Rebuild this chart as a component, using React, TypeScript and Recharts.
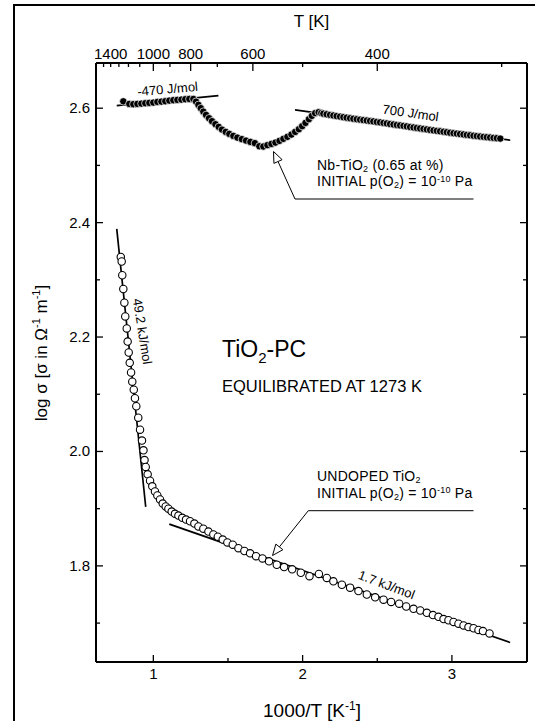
import React from 'react'
import { ComposedChart, Scatter, Line, XAxis, YAxis } from 'recharts'

const FONT = '"Liberation Sans", Arial, Helvetica, sans-serif'

// [1000/T, log sigma]
const undoped: [number, number][] = [
  [0.782, 2.34], [0.788, 2.332], [0.792, 2.308], [0.799, 2.284], [0.806, 2.26], [0.812, 2.236], [0.822, 2.215], [0.828, 2.192], [0.835, 2.173], [0.842, 2.155],
  [0.851, 2.138], [0.859, 2.122], [0.869, 2.108], [0.877, 2.093], [0.886, 2.079], [0.899, 2.059], [0.911, 2.038], [0.924, 2.019], [0.934, 2.002], [0.941, 1.985],
  [0.949, 1.973], [0.962, 1.96], [0.978, 1.949], [0.993, 1.939], [1.011, 1.93], [1.027, 1.923], [1.045, 1.916], [1.063, 1.909], [1.083, 1.904], [1.101, 1.9],
  [1.123, 1.895], [1.145, 1.891], [1.168, 1.888], [1.194, 1.884], [1.219, 1.881], [1.246, 1.878], [1.275, 1.874], [1.302, 1.869], [1.335, 1.865], [1.369, 1.86],
  [1.402, 1.855], [1.432, 1.851], [1.465, 1.846], [1.496, 1.841], [1.532, 1.837], [1.57, 1.831], [1.61, 1.826], [1.648, 1.822], [1.688, 1.817], [1.731, 1.813],
  [1.775, 1.808], [1.827, 1.802], [1.876, 1.798], [1.93, 1.794], [1.988, 1.788], [2.046, 1.782], [2.109, 1.786], [2.162, 1.779], [2.206, 1.773], [2.263, 1.767],
  [2.318, 1.762], [2.374, 1.756], [2.43, 1.75], [2.486, 1.745], [2.542, 1.741], [2.593, 1.737], [2.647, 1.734], [2.694, 1.729], [2.743, 1.725], [2.788, 1.722],
  [2.832, 1.718], [2.873, 1.714], [2.91, 1.711], [2.944, 1.707], [2.977, 1.705], [3.011, 1.702], [3.044, 1.699], [3.078, 1.696], [3.111, 1.693], [3.145, 1.691],
  [3.178, 1.688], [3.208, 1.686], [3.252, 1.682],
]

const nbDoped: [number, number][] = [
  [0.799, 2.612], [0.839, 2.6075], [0.866, 2.607], [0.893, 2.6075], [0.92, 2.608], [0.946, 2.6087], [0.973, 2.6093], [1.0, 2.6098], [1.027, 2.611], [1.054, 2.6115],
  [1.08, 2.6122], [1.107, 2.6133], [1.134, 2.614], [1.161, 2.6145], [1.188, 2.615], [1.214, 2.6157], [1.241, 2.6162], [1.268, 2.6162],
  [1.286, 2.6115], [1.302, 2.6058], [1.318, 2.6], [1.335, 2.594], [1.353, 2.5883], [1.373, 2.5825], [1.393, 2.5773], [1.416, 2.572], [1.438, 2.5673], [1.46, 2.5626],
  [1.485, 2.5586], [1.509, 2.5551], [1.536, 2.5516], [1.563, 2.5486], [1.593, 2.5459], [1.621, 2.5434], [1.65, 2.5411], [1.68, 2.5389], [1.71, 2.5335], [1.737, 2.533],
  [1.764, 2.5354], [1.791, 2.5376], [1.818, 2.5399], [1.845, 2.5429], [1.871, 2.5464], [1.898, 2.5499], [1.925, 2.5539], [1.95, 2.5586], [1.975, 2.5633], [1.997, 2.5686],
  [2.019, 2.5743], [2.042, 2.5808], [2.062, 2.5866], [2.084, 2.5913],
  [2.107, 2.593], [2.125, 2.5915], [2.139, 2.5904], [2.161, 2.5893], [2.184, 2.5883], [2.206, 2.5872], [2.228, 2.5862], [2.251, 2.5853], [2.273, 2.5843], [2.295, 2.5834],
  [2.318, 2.5824], [2.34, 2.5815], [2.363, 2.5807], [2.385, 2.58], [2.407, 2.5792], [2.43, 2.5784], [2.452, 2.5777], [2.474, 2.5769], [2.497, 2.576], [2.519, 2.5752],
  [2.542, 2.5743], [2.564, 2.5734], [2.586, 2.5724], [2.609, 2.5715], [2.631, 2.5707], [2.653, 2.5699], [2.676, 2.5691], [2.698, 2.5682], [2.72, 2.5672], [2.743, 2.5663],
  [2.765, 2.5655], [2.787, 2.5646], [2.81, 2.5638], [2.832, 2.5629], [2.854, 2.5621], [2.877, 2.5612], [2.899, 2.5604], [2.921, 2.5596], [2.944, 2.5588], [2.966, 2.558],
  [2.988, 2.5571], [3.011, 2.5563], [3.033, 2.5556], [3.055, 2.5548], [3.078, 2.5541], [3.1, 2.5533], [3.122, 2.5526], [3.145, 2.5518], [3.167, 2.5512], [3.189, 2.5505],
  [3.212, 2.5499], [3.234, 2.5493], [3.256, 2.5487], [3.279, 2.5481], [3.301, 2.5476], [3.324, 2.5469],
]

// activation-energy tangents (end points)
const fitNbHigh: [number, number][] = [[0.755, 2.6045], [1.436, 2.622]]
const fitNbLow: [number, number][] = [[1.949, 2.597], [3.391, 2.544]]
const fitUndHigh: [number, number][] = [[0.755, 2.389], [0.949, 1.903]]
const fitUndLow: [number, number][] = [[1.107, 1.873], [3.39, 1.666]]

const xDomain = [0.616, 3.503]
const yDomain = [1.632, 2.679]
const bottomTicks = [1, 1.5, 2, 2.5, 3]
const bottomLabels = [1, 2, 3]
const tempTicks = [1500, 1400, 1300, 1200, 1100, 1000, 900, 800, 700, 600, 500, 400, 300]
const tempLabels = [1400, 1000, 800, 600, 400]
const yTicks = [1.7, 1.8, 1.9, 2.0, 2.1, 2.2, 2.3, 2.4, 2.5, 2.6]
const yLabels = [1.8, 2.0, 2.2, 2.4, 2.6]

const toPts = (arr: [number, number][]) => arr.map(([x, y]) => ({ x, y }))

const isIn = (list: number[], v: number) => list.some((t) => Math.abs(t - v) < 1e-6)

const BottomTick = ({ x, y, payload }: any) => {
  const major = isIn(bottomLabels, payload.value)
  return (
    <g>
      <line x1={x} y1={y} x2={x} y2={y - (major ? 7 : 4)} stroke="#000" strokeWidth={1.3} />
      {major && (
        <text x={x} y={y + 17} textAnchor="middle" fontSize={15} fontFamily={FONT} fill="#000">
          {payload.value}
        </text>
      )}
    </g>
  )
}

const TopTick = ({ x, y, payload }: any) => {
  const t = Math.round(1000 / payload.value)
  const labelled = tempLabels.includes(t)
  return (
    <g>
      <line x1={x} y1={y} x2={x} y2={y + (labelled && t !== 1400 ? 8 : 4)} stroke="#000" strokeWidth={1.3} />
      {labelled && (
        <text x={x} y={y - 4} textAnchor="middle" fontSize={15} fontFamily={FONT} fill="#000">
          {t}
        </text>
      )}
    </g>
  )
}

const LeftTick = ({ x, y, payload }: any) => {
  const major = isIn(yLabels, payload.value)
  return (
    <g>
      <line x1={x} y1={y} x2={x + (major ? 7 : 4)} y2={y} stroke="#000" strokeWidth={1.3} />
      {major && (
        <text x={x - 6} y={y + 5} textAnchor="end" fontSize={15} fontFamily={FONT} fill="#000">
          {payload.value.toFixed(1)}
        </text>
      )}
    </g>
  )
}

const RightTick = ({ x, y, payload }: any) => {
  const major = isIn(yLabels, payload.value)
  return <line x1={x} y1={y} x2={x - (major ? 7 : 4)} y2={y} stroke="#000" strokeWidth={1.3} />
}

const NbDot = ({ cx, cy }: any) => <circle cx={cx} cy={cy} r={3.7} fill="#000" stroke="#fff" strokeWidth={0.7} />
const OpenDot = ({ cx, cy }: any) => <circle cx={cx} cy={cy} r={3.7} fill="#fff" stroke="#000" strokeWidth={1.1} />

const Arrow = ({ x1, y1, x2, y2 }: { x1: number; y1: number; x2: number; y2: number }) => {
  const a = Math.atan2(y2 - y1, x2 - x1)
  const len = 11
  const w = 4.5
  const bx = x2 - len * Math.cos(a)
  const by = y2 - len * Math.sin(a)
  const px = -Math.sin(a) * w
  const py = Math.cos(a) * w
  return (
    <g>
      <line x1={x1} y1={y1} x2={bx} y2={by} stroke="#000" strokeWidth={1} />
      <polygon points={`${x2},${y2} ${bx + px},${by + py} ${bx - px},${by - py}`} fill="#fff" stroke="#000" strokeWidth={1} />
    </g>
  )
}

// two-line note with an underline and a leader arrow
const Note = ({ first, base, lineX, tip }: { first: React.ReactNode; base: number; lineX: number; tip: [number, number] }) => (
  <g fontSize={14} letterSpacing={0.25}>
    <text x={317} y={base - 29.5}>{first}</text>
    <text x={317} y={base - 13}>
      INITIAL p(O<tspan dy={2} fontSize={9}>2</tspan><tspan dy={-2}>) = 10</tspan>
      <tspan dy={-4.5} fontSize={9}>-10</tspan><tspan dy={4.5}> Pa</tspan>
    </text>
    <line x1={lineX} y1={base} x2={473.5} y2={base} stroke="#000" strokeWidth={1} />
    <Arrow x1={lineX} y1={base} x2={tip[0]} y2={tip[1]} />
  </g>
)

const axisLine = { stroke: '#000', strokeWidth: 2 }

export default function App() {
  return (
    <div style={{ position: 'absolute', left: 0, top: 0, width: 535, height: 721, background: '#fff', overflow: 'hidden' }}>
      <ComposedChart width={535} height={721} margin={{ top: 0, left: 0, right: 0, bottom: 0 }}>
        <XAxis
          dataKey="x"
          type="number"
          domain={xDomain}
          allowDataOverflow
          ticks={bottomTicks}
          interval={0}
          height={59}
          tickSize={0}
          tickMargin={0}
          axisLine={axisLine}
          tickLine={false}
          tick={BottomTick}
        />
        <XAxis
          xAxisId="top"
          orientation="top"
          dataKey="x"
          type="number"
          domain={xDomain}
          allowDataOverflow
          ticks={tempTicks.map((t) => 1000 / t)}
          interval={0}
          height={63}
          tickSize={0}
          tickMargin={0}
          axisLine={axisLine}
          tickLine={false}
          tick={TopTick}
        />
        <YAxis
          dataKey="y"
          type="number"
          domain={yDomain}
          allowDataOverflow
          ticks={yTicks}
          interval={0}
          width={96}
          tickSize={0}
          tickMargin={0}
          axisLine={axisLine}
          tickLine={false}
          tick={LeftTick}
        />
        <YAxis
          yAxisId="right"
          orientation="right"
          dataKey="y"
          type="number"
          domain={yDomain}
          allowDataOverflow
          ticks={yTicks}
          interval={0}
          width={8}
          tickSize={0}
          tickMargin={0}
          axisLine={axisLine}
          tickLine={false}
          tick={RightTick}
        />
        <Scatter data={toPts(undoped)} shape={OpenDot} isAnimationActive={false} />
        <Scatter data={toPts(nbDoped)} shape={NbDot} isAnimationActive={false} />
        {[fitNbHigh, fitNbLow, fitUndHigh, fitUndLow].map((seg, i) => (
          <Line
            key={i}
            data={toPts(seg)}
            dataKey="y"
            type="linear"
            stroke="#000"
            strokeWidth={1.7}
            dot={false}
            activeDot={false}
            isAnimationActive={false}
          />
        ))}
      </ComposedChart>

      <svg width={535} height={721} style={{ position: 'absolute', left: 0, top: 0, pointerEvents: 'none' }} fontFamily={FONT}>
        <line x1={14} y1={4} x2={14} y2={721} stroke="#000" strokeWidth={2} />
        <line x1={13} y1={5} x2={535} y2={5} stroke="#000" strokeWidth={2} />

        <text x={311.5} y={27} textAnchor="middle" fontSize={17}>T [K]</text>
        <text x={312} y={717} textAnchor="middle" fontSize={19}>
          1000/T [K<tspan dy={-7} fontSize={12}>-1</tspan><tspan dy={7}>]</tspan>
        </text>
        <text transform="translate(47,353) rotate(-90)" textAnchor="middle" fontSize={17}>
          log σ [σ in Ω<tspan dy={-7} fontSize={11}>-1</tspan><tspan dy={7}> m</tspan>
          <tspan dy={-7} fontSize={11}>-1</tspan><tspan dy={7}>]</tspan>
        </text>

        <text transform="translate(168,93.5) rotate(-5)" textAnchor="middle" fontSize={13}>-470 J/mol</text>
        <text transform="translate(410,117.5) rotate(8)" textAnchor="middle" fontSize={13}>700 J/mol</text>
        <text transform="translate(138,332) rotate(81)" textAnchor="middle" fontSize={13}>49.2 kJ/mol</text>
        <text transform="translate(385,589) rotate(20.6)" textAnchor="middle" fontSize={13}>1.7 kJ/mol</text>

        <text x={222} y={357} fontSize={23}>
          TiO<tspan dy={6} fontSize={15}>2</tspan><tspan dy={-6}>-PC</tspan>
        </text>
        <text x={222} y={391.5} fontSize={16.5}>EQUILIBRATED AT 1273 K</text>

        <Note
          first={<>Nb-TiO<tspan dy={2} fontSize={9}>2</tspan><tspan dy={-2}> (0.65 at %)</tspan></>}
          base={199}
          lineX={295}
          tip={[273.5, 151.5]}
        />
        <Note
          first={<>UNDOPED TiO<tspan dy={2} fontSize={9}>2</tspan></>}
          base={510.7}
          lineX={308.3}
          tip={[272.5, 555.5]}
        />
      </svg>
    </div>
  )
}
